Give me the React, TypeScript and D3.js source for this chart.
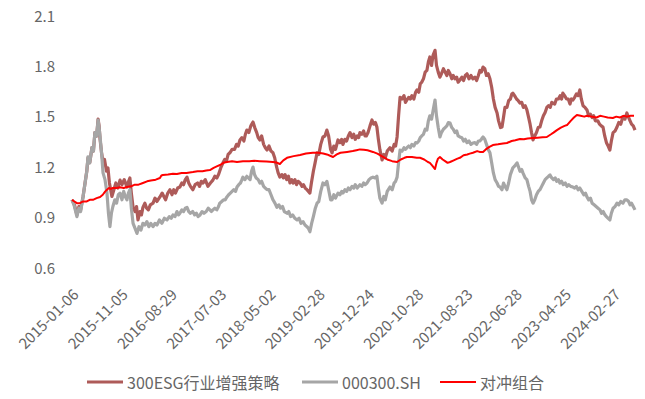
import React from "react";
import * as d3 from "d3";

// x tick labels and their trading-day index
const tickLabels = [
  "2015-01-06", "2015-11-05", "2016-08-29", "2017-07-03", "2018-05-02", "2019-02-28",
  "2019-12-24", "2020-10-28", "2021-08-23", "2022-06-28", "2023-04-25", "2024-02-27",
];
const tickIndex = [0, 200, 400, 600, 800, 1000, 1200, 1400, 1600, 1800, 2000, 2200];
const totalDays = 2286;
const yTicks = [0.6, 0.9, 1.2, 1.5, 1.8, 2.1];

const seriesNames = ["300ESG行业增强策略", "000300.SH", "对冲组合"];

// 300ESG行业增强策略: [trading-day index, net value]
const esg: [number, number][] = [
  [0, 1.0], [10, 0.97], [20, 0.91], [28, 0.96], [35, 0.94], [45, 1.02], [53, 1.1], [60, 1.17], [65, 1.25], [72, 1.22],
  [81, 1.31], [87, 1.29], [93, 1.4], [100, 1.38], [106, 1.48], [110, 1.44], [114, 1.36], [120, 1.28], [126, 1.225], [132, 1.24],
  [140, 1.17], [146, 1.19], [152, 1.1], [162, 1.02], [170, 1.06], [178, 1.1], [186, 1.07], [195, 1.117], [203, 1.09], [212, 1.12],
  [223, 1.076], [230, 1.11], [235, 1.13], [241, 1.04], [248, 0.955], [256, 0.93], [262, 0.96], [268, 0.88], [276, 0.93], [282, 0.91],
  [288, 0.955], [296, 0.98], [303, 0.95], [310, 0.94], [318, 0.97], [329, 0.98], [337, 1.01], [345, 0.99], [357, 1.017], [366, 1.04],
  [373, 1.02], [380, 1.0], [389, 1.04], [398, 1.06], [406, 1.03], [413, 1.06], [420, 1.04], [429, 1.07], [438, 1.076], [446, 1.1],
  [453, 1.09], [460, 1.12], [467, 1.135], [474, 1.1], [481, 1.08], [491, 1.06], [500, 1.09], [510, 1.1], [518, 1.08], [525, 1.11],
  [532, 1.1], [541, 1.12], [552, 1.08], [562, 1.1], [572, 1.117], [580, 1.14], [588, 1.13], [595, 1.15], [604, 1.19], [613, 1.22],
  [620, 1.24], [627, 1.23], [634, 1.27], [641, 1.28], [650, 1.3], [660, 1.3], [668, 1.33], [675, 1.32], [682, 1.356], [690, 1.37],
  [698, 1.35], [704, 1.39], [710, 1.415], [718, 1.4], [726, 1.44], [735, 1.463], [742, 1.43], [750, 1.4], [756, 1.37], [763, 1.356],
  [770, 1.38], [778, 1.33], [785, 1.31], [792, 1.296], [800, 1.32], [808, 1.29], [816, 1.28], [823, 1.25], [830, 1.2], [837, 1.16],
  [844, 1.135], [852, 1.15], [858, 1.13], [865, 1.15], [872, 1.12], [879, 1.14], [885, 1.1], [892, 1.12], [898, 1.1], [905, 1.12],
  [912, 1.09], [918, 1.11], [926, 1.1], [934, 1.08], [940, 1.09], [947, 1.07], [954, 1.06], [960, 1.05], [966, 1.04], [972, 1.1],
  [980, 1.17], [987, 1.22], [995, 1.28], [1002, 1.27], [1010, 1.33], [1019, 1.374], [1027, 1.38], [1035, 1.415], [1042, 1.38], [1050, 1.3],
  [1056, 1.28], [1063, 1.32], [1070, 1.3], [1080, 1.356], [1088, 1.34], [1095, 1.36], [1100, 1.33], [1108, 1.36], [1115, 1.35], [1122, 1.38],
  [1129, 1.4], [1137, 1.37], [1144, 1.39], [1150, 1.36], [1158, 1.38], [1164, 1.37], [1169, 1.4], [1177, 1.39], [1184, 1.41], [1190, 1.38],
  [1195, 1.38], [1202, 1.4], [1210, 1.44], [1218, 1.475], [1225, 1.45], [1232, 1.46], [1238, 1.433], [1244, 1.36], [1250, 1.3], [1259, 1.237],
  [1266, 1.27], [1272, 1.25], [1280, 1.29], [1291, 1.31], [1300, 1.29], [1308, 1.33], [1314, 1.32], [1320, 1.374], [1326, 1.5], [1332, 1.61],
  [1340, 1.6], [1348, 1.62], [1354, 1.58], [1360, 1.594], [1367, 1.61], [1374, 1.6], [1380, 1.62], [1388, 1.6], [1395, 1.64], [1401, 1.654],
  [1408, 1.64], [1414, 1.69], [1420, 1.7], [1427, 1.72], [1434, 1.76], [1441, 1.77], [1447, 1.82], [1453, 1.85], [1460, 1.8], [1466, 1.86],
  [1474, 1.89], [1480, 1.8], [1487, 1.76], [1494, 1.73], [1500, 1.75], [1508, 1.78], [1515, 1.76], [1522, 1.74], [1528, 1.77], [1535, 1.75],
  [1542, 1.72], [1548, 1.74], [1555, 1.72], [1562, 1.73], [1568, 1.7], [1575, 1.713], [1583, 1.73], [1590, 1.71], [1597, 1.74], [1604, 1.75],
  [1612, 1.72], [1620, 1.74], [1628, 1.72], [1636, 1.73], [1643, 1.71], [1650, 1.74], [1656, 1.77], [1662, 1.76], [1669, 1.79], [1676, 1.78],
  [1683, 1.74], [1690, 1.75], [1697, 1.72], [1704, 1.67], [1711, 1.6], [1718, 1.55], [1726, 1.517], [1732, 1.47], [1740, 1.43], [1746, 1.433],
  [1752, 1.49], [1758, 1.55], [1766, 1.55], [1773, 1.59], [1780, 1.6], [1786, 1.63], [1790, 1.635], [1797, 1.62], [1805, 1.6], [1812, 1.59],
  [1819, 1.576], [1826, 1.58], [1833, 1.55], [1840, 1.56], [1847, 1.535], [1854, 1.49], [1860, 1.45], [1866, 1.4], [1872, 1.356], [1879, 1.38],
  [1886, 1.4], [1893, 1.43], [1900, 1.433], [1907, 1.47], [1914, 1.5], [1921, 1.52], [1928, 1.55], [1935, 1.56], [1942, 1.55], [1948, 1.58],
  [1953, 1.576], [1960, 1.57], [1967, 1.6], [1975, 1.6], [1982, 1.62], [1988, 1.6], [1993, 1.635], [2000, 1.62], [2008, 1.6], [2015, 1.6],
  [2022, 1.57], [2028, 1.6], [2034, 1.594], [2041, 1.61], [2048, 1.63], [2055, 1.62], [2062, 1.654], [2068, 1.6], [2075, 1.56], [2083, 1.55],
  [2091, 1.535], [2098, 1.5], [2105, 1.51], [2112, 1.49], [2118, 1.5], [2125, 1.47], [2135, 1.47], [2142, 1.45], [2149, 1.44], [2156, 1.433],
  [2163, 1.38], [2170, 1.34], [2177, 1.32], [2184, 1.296], [2190, 1.35], [2197, 1.4], [2205, 1.41], [2213, 1.433], [2220, 1.46], [2228, 1.45],
  [2237, 1.494], [2245, 1.48], [2253, 1.517], [2260, 1.49], [2266, 1.47], [2272, 1.45], [2279, 1.44], [2286, 1.415],
];

// 000300.SH
const csi: [number, number][] = [
  [0, 1.0], [10, 0.96], [20, 0.9], [28, 0.95], [35, 0.93], [45, 1.02], [53, 1.1], [60, 1.17], [65, 1.255], [72, 1.22],
  [81, 1.31], [87, 1.29], [93, 1.4], [100, 1.38], [106, 1.475], [110, 1.43], [114, 1.375], [120, 1.28], [126, 1.16], [134, 1.12],
  [142, 1.04], [148, 0.92], [154, 0.84], [160, 0.92], [166, 0.96], [174, 1.0], [181, 0.98], [188, 1.03], [195, 1.04], [203, 1.0],
  [210, 1.05], [216, 1.02], [223, 1.0], [229, 1.04], [235, 1.06], [241, 0.95], [248, 0.86], [256, 0.83], [264, 0.8], [272, 0.84],
  [280, 0.82], [288, 0.86], [296, 0.85], [304, 0.87], [312, 0.84], [320, 0.86], [329, 0.84], [337, 0.86], [345, 0.85], [355, 0.88],
  [365, 0.86], [375, 0.89], [386, 0.88], [395, 0.9], [403, 0.89], [410, 0.91], [418, 0.9], [426, 0.93], [433, 0.91], [438, 0.92],
  [446, 0.94], [453, 0.93], [460, 0.95], [467, 0.955], [474, 0.93], [481, 0.92], [490, 0.93], [498, 0.91], [505, 0.92], [512, 0.9],
  [520, 0.91], [528, 0.93], [536, 0.92], [545, 0.93], [553, 0.95], [560, 0.94], [566, 0.93], [572, 0.94], [580, 0.95], [588, 0.94],
  [595, 0.96], [600, 0.98], [608, 0.99], [615, 1.0], [622, 1.0], [629, 1.017], [636, 1.03], [643, 1.04], [650, 1.05], [657, 1.06],
  [664, 1.05], [670, 1.076], [677, 1.09], [684, 1.1], [690, 1.12], [694, 1.135], [702, 1.12], [710, 1.14], [716, 1.13], [723, 1.12],
  [729, 1.17], [735, 1.195], [741, 1.15], [748, 1.13], [756, 1.12], [763, 1.1], [770, 1.11], [778, 1.08], [785, 1.07], [792, 1.06],
  [800, 1.06], [808, 1.03], [816, 1.0], [824, 0.98], [832, 0.955], [840, 0.97], [847, 0.95], [855, 0.96], [862, 0.93], [873, 0.92],
  [880, 0.93], [888, 0.9], [896, 0.91], [905, 0.89], [914, 0.88], [922, 0.89], [930, 0.86], [938, 0.87], [946, 0.85], [954, 0.84],
  [960, 0.83], [966, 0.81], [973, 0.86], [980, 0.9], [988, 0.95], [995, 0.98], [1002, 0.99], [1010, 1.05], [1019, 1.1], [1027, 1.09],
  [1035, 1.11], [1042, 1.06], [1050, 1.0], [1056, 1.0], [1063, 1.03], [1070, 1.01], [1080, 1.04], [1088, 1.03], [1095, 1.05], [1100, 1.04],
  [1108, 1.06], [1115, 1.05], [1122, 1.07], [1129, 1.06], [1137, 1.08], [1144, 1.07], [1150, 1.09], [1158, 1.07], [1169, 1.09], [1177, 1.08],
  [1184, 1.1], [1190, 1.09], [1198, 1.1], [1206, 1.12], [1214, 1.13], [1222, 1.135], [1230, 1.13], [1238, 1.14], [1244, 1.07], [1250, 1.01],
  [1259, 0.98], [1266, 1.02], [1272, 1.0], [1280, 1.05], [1291, 1.076], [1300, 1.06], [1308, 1.1], [1314, 1.11], [1320, 1.135], [1326, 1.22],
  [1332, 1.296], [1340, 1.29], [1348, 1.31], [1354, 1.3], [1360, 1.31], [1367, 1.32], [1374, 1.31], [1380, 1.33], [1388, 1.32], [1395, 1.34],
  [1401, 1.338], [1408, 1.35], [1414, 1.37], [1420, 1.38], [1427, 1.39], [1434, 1.42], [1441, 1.415], [1447, 1.47], [1453, 1.5], [1460, 1.48],
  [1466, 1.53], [1474, 1.594], [1480, 1.5], [1487, 1.43], [1494, 1.374], [1500, 1.4], [1508, 1.42], [1515, 1.43], [1522, 1.44], [1528, 1.46],
  [1535, 1.457], [1542, 1.43], [1548, 1.42], [1555, 1.4], [1562, 1.41], [1568, 1.38], [1575, 1.374], [1583, 1.37], [1590, 1.35], [1597, 1.36],
  [1604, 1.34], [1612, 1.35], [1620, 1.33], [1628, 1.338], [1636, 1.34], [1643, 1.33], [1650, 1.35], [1656, 1.35], [1662, 1.36], [1669, 1.374],
  [1676, 1.36], [1683, 1.33], [1690, 1.3], [1697, 1.28], [1704, 1.22], [1711, 1.16], [1718, 1.12], [1726, 1.1], [1732, 1.08], [1738, 1.076],
  [1746, 1.06], [1752, 1.1], [1758, 1.08], [1766, 1.06], [1773, 1.1], [1780, 1.15], [1790, 1.19], [1797, 1.2], [1807, 1.22], [1812, 1.2],
  [1819, 1.17], [1826, 1.18], [1831, 1.16], [1840, 1.13], [1847, 1.12], [1854, 1.08], [1860, 1.05], [1866, 1.0], [1872, 0.98], [1879, 1.0],
  [1886, 1.03], [1893, 1.05], [1900, 1.06], [1907, 1.08], [1914, 1.1], [1921, 1.12], [1928, 1.13], [1935, 1.14], [1941, 1.148], [1948, 1.13],
  [1955, 1.12], [1962, 1.13], [1968, 1.11], [1975, 1.12], [1981, 1.1], [1988, 1.11], [1995, 1.09], [2003, 1.1], [2010, 1.08], [2017, 1.09],
  [2025, 1.08], [2034, 1.076], [2041, 1.07], [2048, 1.08], [2055, 1.06], [2062, 1.07], [2070, 1.05], [2078, 1.03], [2085, 1.04], [2091, 1.017],
  [2098, 1.0], [2105, 1.01], [2112, 0.98], [2120, 0.97], [2128, 0.96], [2136, 0.95], [2144, 0.94], [2150, 0.92], [2157, 0.93], [2164, 0.91],
  [2170, 0.9], [2177, 0.89], [2184, 0.88], [2190, 0.92], [2197, 0.95], [2205, 0.96], [2213, 0.98], [2220, 0.97], [2228, 0.99], [2237, 0.98],
  [2245, 1.0], [2253, 1.0], [2260, 0.99], [2266, 0.97], [2272, 0.98], [2279, 0.96], [2286, 0.94],
];

// 对冲组合
const hedge: [number, number][] = [
  [0, 1.0], [10, 0.99], [20, 0.98], [32, 0.98], [45, 0.99], [60, 0.99], [72, 1.0], [85, 1.0], [100, 1.01], [114, 1.017],
  [125, 1.03], [135, 1.05], [142, 1.06], [150, 1.07], [158, 1.065], [166, 1.07], [180, 1.07], [195, 1.075], [210, 1.07], [223, 1.076],
  [240, 1.08], [255, 1.09], [270, 1.09], [288, 1.1], [305, 1.11], [320, 1.115], [340, 1.12], [357, 1.13], [363, 1.145], [369, 1.148],
  [390, 1.15], [410, 1.155], [426, 1.154], [445, 1.16], [465, 1.16], [491, 1.165], [510, 1.17], [530, 1.17], [545, 1.175], [560, 1.177],
  [575, 1.19], [590, 1.2], [601, 1.207], [615, 1.22], [629, 1.225], [650, 1.23], [670, 1.225], [694, 1.23], [720, 1.23], [740, 1.232],
  [763, 1.23], [790, 1.228], [816, 1.225], [830, 1.222], [844, 1.213], [858, 1.235], [873, 1.25], [900, 1.26], [926, 1.267], [950, 1.275],
  [978, 1.28], [1000, 1.28], [1020, 1.275], [1035, 1.27], [1048, 1.262], [1060, 1.255], [1075, 1.27], [1090, 1.28], [1117, 1.285], [1140, 1.29],
  [1155, 1.295], [1169, 1.3], [1185, 1.298], [1200, 1.295], [1222, 1.285], [1240, 1.275], [1263, 1.255], [1280, 1.24], [1300, 1.23], [1320, 1.225],
  [1335, 1.24], [1350, 1.25], [1360, 1.255], [1380, 1.255], [1400, 1.25], [1413, 1.25], [1430, 1.24], [1445, 1.225], [1453, 1.22], [1462, 1.205],
  [1474, 1.183], [1480, 1.22], [1486, 1.245], [1494, 1.255], [1505, 1.24], [1515, 1.23], [1525, 1.22], [1535, 1.225], [1550, 1.235], [1565, 1.245],
  [1575, 1.25], [1590, 1.265], [1605, 1.27], [1615, 1.275], [1628, 1.28], [1645, 1.29], [1655, 1.285], [1669, 1.285], [1680, 1.3], [1695, 1.315],
  [1709, 1.326], [1730, 1.33], [1750, 1.335], [1766, 1.338], [1785, 1.35], [1800, 1.355], [1819, 1.362], [1835, 1.36], [1850, 1.365], [1872, 1.368],
  [1890, 1.37], [1910, 1.372], [1928, 1.374], [1945, 1.39], [1955, 1.4], [1969, 1.415], [1985, 1.43], [2000, 1.44], [2010, 1.445], [2025, 1.47],
  [2038, 1.49], [2050, 1.505], [2065, 1.5], [2080, 1.495], [2091, 1.5], [2110, 1.495], [2130, 1.49], [2144, 1.5], [2160, 1.495], [2175, 1.49],
  [2196, 1.487], [2210, 1.495], [2225, 1.49], [2240, 1.5], [2253, 1.495], [2268, 1.5], [2282, 1.5],
];

const colors = ["#AE5B59", "#A6A6A6", "#FF0000"];
const widths = [3.2, 3.2, 2];

export default function App() {
  const W = 645, H = 399;
  const x = d3.scaleLinear().domain([0, totalDays]).range([72, 635]);
  const y = d3.scaleLinear().domain([0.6, 2.1]).range([267, 15]);
  const line = d3.line<[number, number]>().x((d) => x(d[0])).y((d) => y(d[1]));
  const series = [esg, csi, hedge];
  const font = "'Noto Sans CJK SC', 'Noto Sans', sans-serif";
  const legendX = [87, 302, 440];
  return (
    <svg width={W} height={H} style={{ position: "absolute", left: 0, top: 0 }}>
      <rect width={W} height={H} fill="#fff" />
      {yTicks.map((t) => (
        <text key={t} x={55} y={y(t)} textAnchor="end" dominantBaseline="central"
          fontFamily={font} fontSize={15} fill="#666">{t.toFixed(1)}</text>
      ))}
      {tickIndex.map((t, i) => (
        <text key={t} transform={`translate(${x(t) + 3},${291}) rotate(-45)`} textAnchor="end"
          dominantBaseline="central" fontFamily={font} fontSize={15} fill="#666">{tickLabels[i]}</text>
      ))}
      {series.map((s, i) => (
        <path key={i} d={line(s) || ""} fill="none" stroke={colors[i]} strokeWidth={widths[i]}
          strokeLinejoin="round" />
      ))}
      {seriesNames.map((n, i) => (
        <g key={n}>
          <line x1={legendX[i]} x2={legendX[i] + 36} y1={382} y2={382} stroke={colors[i]} strokeWidth={widths[i]} />
          <text x={legendX[i] + 40} y={382} dominantBaseline="central" fontFamily={font} fontSize={16} fill="#666">{n}</text>
        </g>
      ))}
    </svg>
  );
}
